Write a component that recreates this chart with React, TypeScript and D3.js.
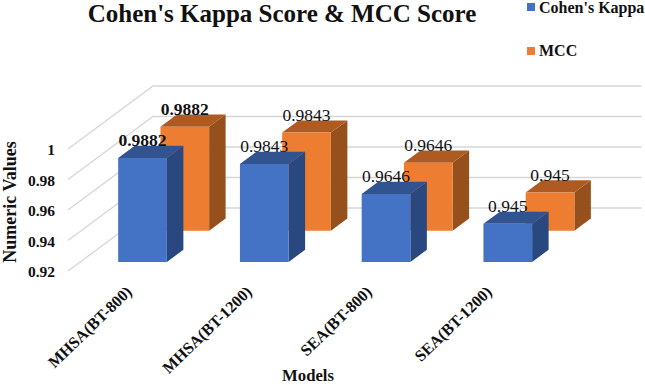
import React from 'react';
import * as d3 from 'd3';

const models = ['MHSA(BT-800)', 'MHSA(BT-1200)', 'SEA(BT-800)', 'SEA(BT-1200)'];
const kappa = [0.9882, 0.9843, 0.9646, 0.945];
const mcc = [0.9882, 0.9843, 0.9646, 0.945];
const yTicks = [0.92, 0.94, 0.96, 0.98, 1];

const serif = '"Liberation Serif", "Times New Roman", serif';
const width = 645;
const height = 385;

// the wall is sheared back, depth 1 = the whole floor
const depthX = 85;
const depthY = -63;

const x = d3.scaleBand<string>().domain(models).range([69.5, 556.5]).paddingInner(0.6).paddingOuter(0.3);
const y = d3.scaleLinear().domain([0.92, 1]).range([271, 149]);
// rotated labels run a little tighter than the bars
const xLabel = d3.scalePoint<string>().domain(models).range([133, 493]);

const line = d3.line<[number, number]>();
const project = (px: number, v: number, z: number): [number, number] => [px + z * depthX, y(v) + z * depthY];

const series = [
  { name: 'MCC', values: mcc, z: 0.64, front: '#ED7D31', top: '#AE5A21', side: '#95501C', bold: [0] },
  { name: "Cohen's Kappa", values: kappa, z: 0.143, front: '#4472C4', top: '#31538F', side: '#2A4880', bold: [0] },
];
const barDepth = 0.194;

function Bar({ model, value, s }: { model: string; value: number; s: (typeof series)[number] }) {
  const x0 = x(model)!;
  const x1 = x0 + x.bandwidth();
  const base = y.domain()[0];
  const z0 = s.z;
  const z1 = s.z + barDepth;
  const frontFace = [project(x0, base, z0), project(x1, base, z0), project(x1, value, z0), project(x0, value, z0)];
  const topFace = [project(x0, value, z0), project(x1, value, z0), project(x1, value, z1), project(x0, value, z1)];
  const sideFace = [project(x1, base, z0), project(x1, base, z1), project(x1, value, z1), project(x1, value, z0)];
  return (
    <g>
      <path d={line(sideFace)! + 'Z'} fill={s.side} />
      <path d={line(topFace)! + 'Z'} fill={s.top} />
      <path d={line(frontFace)! + 'Z'} fill={s.front} />
    </g>
  );
}

export default function App() {
  const backX = project(x.range()[1], 0.92, 1)[0];
  return (
    <svg width={width} height={height} style={{ position: 'absolute', left: 0, top: 0, background: '#fff' }} fontFamily={serif}>
      {/* walls */}
      {yTicks.map((t) => {
        const a = project(x.range()[0] - 1.5, t, 0);
        const b = project(x.range()[0] - 1.5, t, 1);
        return (
          <path
            key={t}
            d={line([a, b, [backX, b[1]]])!}
            fill="none"
            stroke="#D6D6D6"
            strokeWidth={1.3}
          />
        );
      })}

      {/* orange row sits behind the blue one */}
      {series.map((s) => (
        <g key={s.name}>
          {models.map((m, i) => (
            <Bar key={m} model={m} value={s.values[i]} s={s} />
          ))}
        </g>
      ))}

      {series.map((s) =>
        models.map((m, i) => {
          const [lx, ly] = project(x(m)! + x.bandwidth() / 2, s.values[i], s.z);
          return (
            <text
              key={s.name + m}
              x={lx}
              y={ly - 12}
              textAnchor="middle"
              fontSize={17.5}
              fontWeight={s.bold.includes(i) ? 'bold' : 'normal'}
              fill="#111"
            >
              {s.values[i]}
            </text>
          );
        }),
      )}

      {yTicks.map((t) => (
        <text key={t} x={55} y={y(t) + 6} textAnchor="end" fontSize={15.5} fontWeight="bold" fill="#111">
          {t}
        </text>
      ))}

      {models.map((m) => (
        <text
          key={m}
          transform={`translate(${xLabel(m)},293) rotate(-44)`}
          textAnchor="end"
          fontSize={16.2}
          fontWeight="bold"
          fill="#111"
        >
          {m}
        </text>
      ))}

      <text x={282} y={21.5} textAnchor="middle" fontSize={25} fontWeight="bold" fill="#111">
        Cohen's Kappa Score &amp; MCC Score
      </text>
      <text x={308} y={381} textAnchor="middle" fontSize={16.7} fontWeight="bold" fill="#111">
        Models
      </text>
      <text transform="translate(16,202) rotate(-90)" textAnchor="middle" fontSize={18} fontWeight="bold" fill="#111">
        Numeric Values
      </text>

      {/* legend */}
      <rect x={527} y={3} width={8} height={8} fill="#4472C4" />
      <text x={539} y={13} fontSize={16} fontWeight="bold" fill="#111">
        Cohen's Kappa
      </text>
      <rect x={527} y={47} width={8} height={8} fill="#ED7D31" />
      <text x={539} y={56} fontSize={16} fontWeight="bold" fill="#111">
        MCC
      </text>
    </svg>
  );
}
